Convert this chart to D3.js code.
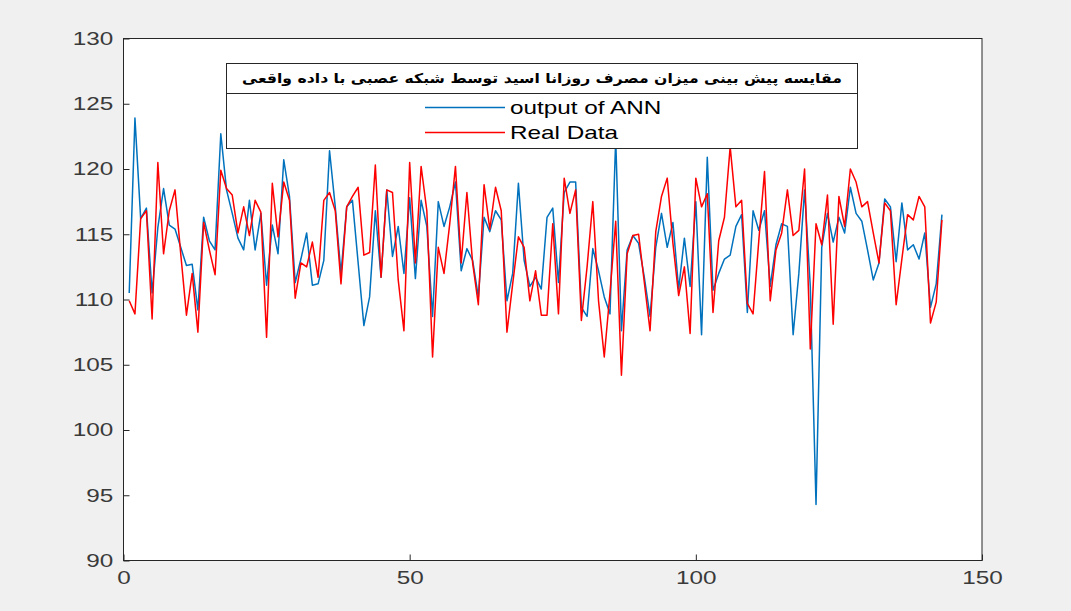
<!DOCTYPE html>
<html>
<head>
<meta charset="utf-8">
<script src="https://cdn.jsdelivr.net/npm/d3@7"></script>
<style>
  body { margin: 0; background: #f0f0f0; }
  svg { display: block; }
</style>
</head>
<body>
<svg id="fig" width="1071" height="611"></svg>
<script>
// valeurs (index 1..143)
var annOut = [110.5,123.9,116.2,117.0,110.5,115.5,118.5,115.7,115.4,114.0,
  112.6,112.7,109.2,116.3,114.5,113.8,122.7,118.4,116.6,114.7,
  113.8,117.6,113.8,116.6,111.1,115.7,113.5,120.7,117.9,111.3,
  113.1,115.1,111.1,111.2,113.0,121.4,117.1,112.0,117.1,117.6,
  112.8,108.0,110.2,116.8,111.7,118.4,113.3,115.6,112.0,117.8,
  111.6,117.6,115.6,108.7,117.5,115.6,117.1,119.0,112.2,113.9,
  113.0,110.2,116.3,115.2,116.8,116.1,109.9,112.0,118.9,113.0,
  111.0,111.7,110.8,116.3,117.0,111.3,118.2,119.0,119.0,109.4,
  108.7,113.9,112.2,110.2,108.9,122.3,107.6,113.8,114.9,114.3,
  111.7,108.7,114.0,116.6,114.0,115.9,110.8,114.7,111.0,117.5,
  107.3,120.9,110.7,112.0,113.1,113.4,115.6,116.5,109.0,116.8,
  115.3,116.8,111.0,114.2,115.8,115.6,107.3,112.0,118.4,111.0,
  94.3,114.0,116.6,114.4,116.3,115.1,118.6,116.6,116.0,113.8,
  111.5,112.8,117.7,117.1,112.9,117.4,113.8,114.2,113.1,115.1,
  109.4,111.2,116.5];

var realData = [109.9,108.9,116.2,116.8,108.5,120.5,113.5,116.8,118.4,113.5,
  108.8,112.0,107.5,115.9,113.8,111.9,119.9,118.5,118.0,115.1,
  117.1,114.9,117.6,116.7,107.1,118.9,114.8,119.0,117.6,110.1,
  112.8,112.5,114.4,111.7,117.6,118.2,116.8,111.2,117.1,117.9,
  118.6,113.4,113.6,120.3,111.7,118.4,118.2,111.5,107.6,120.5,
  112.8,120.2,116.8,105.6,114.0,112.0,115.8,120.2,112.8,118.2,
  112.8,109.6,118.8,115.4,118.6,116.8,107.5,111.2,114.8,114.0,
  109.9,112.2,108.8,108.8,115.8,108.9,119.3,116.6,118.4,108.4,
  112.5,117.5,109.9,105.6,110.5,116.0,104.2,113.5,114.9,115.0,
  111.3,107.6,115.2,117.9,119.3,114.3,110.3,112.5,107.4,119.3,
  117.1,118.1,109.0,114.5,116.3,121.7,117.1,117.6,109.7,108.9,
  114.5,119.8,109.9,113.8,115.1,118.4,114.9,115.3,120.0,106.2,
  115.8,114.2,118.0,108.1,117.9,115.6,120.0,119.0,117.1,117.5,
  115.1,112.8,117.4,116.8,109.6,113.1,116.5,116.1,117.9,117.1,
  108.2,109.8,116.1];

var xTicks = [0, 50, 100, 150];
var yTicks = [90, 95, 100, 105, 110, 115, 120, 125, 130];
var legendTitle = "مقایسه پیش بینی میزان مصرف روزانا اسید توسط شبکه عصبی با داده واقعی";
var seriesNames = ["output of ANN", "Real Data"];
var seriesColors = ["#0072bd", "#ff0000"];

(function() {
var svg = d3.select("#fig");
var axL = 123.5, axR = 982, axT = 38.5, axB = 560.5;
var etire = 1.35; // le texte de l'original est etire en largeur

var x = d3.scaleLinear().domain([0, 150]).range([axL, axR]);
var y = d3.scaleLinear().domain([90, 130]).range([axB, axT]);

// fond des axes
svg.append("rect")
  .attr("x", axL).attr("y", axT)
  .attr("width", axR - axL).attr("height", axB - axT)
  .attr("fill", "white");

// axes (graduations vers l'interieur)
var gx = svg.append("g").attr("transform", "translate(0," + axB + ")")
  .call(d3.axisBottom(x).tickValues(xTicks).tickSizeInner(-6).tickSizeOuter(0).tickPadding(11));
var gy = svg.append("g").attr("transform", "translate(" + axL + ",0)")
  .call(d3.axisLeft(y).tickValues(yTicks).tickSizeInner(-6).tickSizeOuter(0).tickPadding(7.5));

[gx, gy].forEach(function(g) {
  g.select(".domain").remove();
  g.selectAll("line").attr("stroke", "#262626");
  g.selectAll("text")
    .attr("fill", "#3a3a3a")
    .attr("transform", "scale(" + etire + ",1)")
    .style("font-family", "Liberation Sans, Arial, sans-serif")
    .style("font-size", "18px");
});

// courbes
var line = d3.line()
  .x(function(d, i) { return x(i + 1); })
  .y(function(d) { return y(d); });

[annOut, realData].forEach(function(serie, k) {
  svg.append("path")
    .datum(serie)
    .attr("d", line)
    .attr("fill", "none")
    .attr("stroke", seriesColors[k])
    .attr("stroke-width", 1.5)
    .attr("stroke-linejoin", "round");
});

// cadre
svg.append("rect")
  .attr("x", axL).attr("y", axT)
  .attr("width", axR - axL).attr("height", axB - axT)
  .attr("fill", "none")
  .attr("stroke", "#262626")
  .attr("stroke-width", 1);

// legende
var lgX = 226.5, lgY = 63.5, lgW = 631, lgH = 85, lgSep = 93.5;
var lg = svg.append("g");
lg.append("rect")
  .attr("x", lgX).attr("y", lgY).attr("width", lgW).attr("height", lgH)
  .attr("fill", "white").attr("stroke", "#262626").attr("stroke-width", 1);
lg.append("line")
  .attr("x1", lgX).attr("x2", lgX + lgW)
  .attr("y1", lgSep).attr("y2", lgSep)
  .attr("stroke", "#262626");
lg.append("text")
  .attr("transform", "translate(" + (lgX + lgW / 2) + "," + (lgY + 19) + ") scale(1.16,1)")
  .attr("text-anchor", "middle")
  .attr("direction", "rtl")
  .style("font-family", "DejaVu Sans, sans-serif")
  .style("font-weight", "bold")
  .style("font-size", "13.5px")
  .attr("fill", "#000")
  .text(legendTitle);

seriesNames.forEach(function(name, k) {
  var yy = 107.5 + k * 25;
  lg.append("line")
    .attr("x1", 425).attr("x2", 505)
    .attr("y1", yy).attr("y2", yy)
    .attr("stroke", seriesColors[k])
    .attr("stroke-width", 1.5);
  lg.append("text")
    .attr("transform", "translate(510," + (yy + 6.5) + ") scale(" + etire + ",1)")
    .style("font-family", "Liberation Sans, Arial, sans-serif")
    .style("font-size", "18px")
    .attr("fill", "#000")
    .text(name);
});
})();
</script>
</body>
</html>
